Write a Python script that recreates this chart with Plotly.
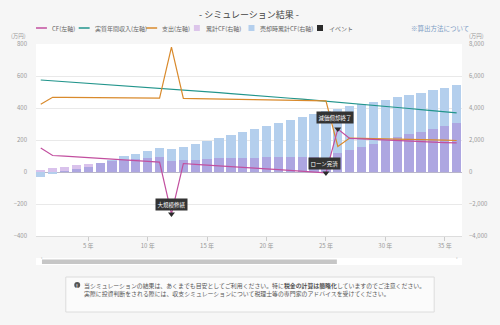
import plotly.graph_objects as go

years = list(range(1, 37))
year_ticks = [5, 10, 15, 20, 25, 30, 35]
year_tick_text = ["5 年", "10 年", "15 年", "20 年", "25 年", "30 年", "35 年"]

cf = [150, 103, 99, 94, 90, 84, 80, 76, 71, 67, 62, -262, 53, 48, 44, 39, 34, 30,
      25, 20, 15, 10, 5, 0, -6, 268, 210, 207, 203, 200, 196, 193, 190, 187, 184, 182]
income = [575, 570, 565, 560, 555, 549, 544, 539, 534, 529, 524, 518, 513, 507, 502, 496, 490, 485,
          479, 473, 467, 461, 455, 449, 442, 436, 429, 423, 416, 410, 403, 397, 390, 383, 377, 370]
expense = [423, 467, 466, 466, 465, 465, 464, 463, 463, 462, 462, 780, 460, 459, 458, 457, 456, 455,
           454, 453, 452, 451, 450, 449, 444, 160, 212, 210, 209, 207, 205, 204, 202, 200, 199, 197]
cum_cf = [150, 250, 340, 420, 500, 590, 670, 745, 815, 880, 940, 680, 730, 775, 815, 850, 875, 895,
          905, 915, 920, 920, 915, 910, 900, 1160, 1370, 1575, 1775, 1970, 2160, 2345, 2530, 2715, 2900, 3080]
sale_cum_cf = [-330, -140, 20, 170, 330, 590, 750, 980, 1140, 1330, 1530, 1420, 1580, 1750, 1950, 2120, 2310, 2500,
               2690, 2870, 3040, 3230, 3420, 3620, 3800, 3950, 4100, 4250, 4400, 4530, 4660, 4800, 4950, 5100, 5260, 5420]

event_years = [12, 25, 26]
event_labels = ["大規模修繕", "ローン完済", "減価償却終了"]
event_values = [cf[y - 1] for y in event_years]

legend_labels = ["CF(左軸)", "実質年間収入(左軸)", "支出(左軸)", "累計CF(右軸)", "売却時累計CF(右軸)", "イベント"]

C_CF = "#c24f9f"
C_INC = "#22958c"
C_EXP = "#d98a2c"
C_CUM = "rgba(165,110,210,0.42)"
C_CUM_LEG = "#dcc5ea"
C_SALE = "#b4cfed"
C_EVT = "#2b2b2b"
FONT = "Noto Sans CJK JP, Noto Sans, sans-serif"

W, H = 500, 325
L, R, T, B = 36, 35, 44, 89
PW, PH = W - L - R, H - T - B


def px(x):
    return (x - L) / PW


def py(y):
    return (H - B - y) / PH


fig = go.Figure()
fig.add_trace(go.Bar(x=years, y=sale_cum_cf, marker=dict(color=C_SALE, line=dict(width=0)),
                     width=0.78, yaxis="y", name=legend_labels[4], showlegend=False))
fig.add_trace(go.Bar(x=years, y=cum_cf, marker=dict(color=C_CUM, line=dict(width=0)),
                     width=0.78, yaxis="y", name=legend_labels[3], showlegend=False))
fig.add_trace(go.Scatter(x=years, y=income, mode="lines", line=dict(color=C_INC, width=1.2),
                         yaxis="y2", name=legend_labels[1], showlegend=False))
fig.add_trace(go.Scatter(x=years, y=expense, mode="lines", line=dict(color=C_EXP, width=1.2),
                         yaxis="y2", name=legend_labels[2], showlegend=False))
fig.add_trace(go.Scatter(x=years, y=cf, mode="lines", line=dict(color=C_CF, width=1.2),
                         yaxis="y2", name=legend_labels[0], showlegend=False))
fig.add_trace(go.Scatter(x=event_years, y=event_values, mode="markers",
                         marker=dict(symbol="triangle-down", size=6, color=C_EVT),
                         yaxis="y2", name=legend_labels[5], showlegend=False, cliponaxis=False))

shapes = []
annotations = []

# title
annotations.append(dict(text="- シミュレーション結果 -", x=px(251), y=py(14), xref="paper", yref="paper",
                        showarrow=False, font=dict(size=9, color="#444", family=FONT),
                        xanchor="center", yanchor="middle"))

# manual legend
leg_y = 28
line_items = [(36, C_CF, legend_labels[0]), (79, C_INC, legend_labels[1]), (147, C_EXP, legend_labels[2])]
for x0, col, lab in line_items:
    shapes.append(dict(type="line", xref="paper", yref="paper", x0=px(x0), x1=px(x0 + 11),
                       y0=py(leg_y), y1=py(leg_y), line=dict(color=col, width=1.5)))
    annotations.append(dict(text=lab, x=px(x0 + 14), y=py(leg_y), xref="paper", yref="paper",
                            showarrow=False, xanchor="left", yanchor="middle",
                            font=dict(size=6, color="#666", family=FONT)))
sq_items = [(195, C_CUM_LEG, legend_labels[3]), (250, C_SALE, legend_labels[4]), (319, C_EVT, legend_labels[5])]
for x0, col, lab in sq_items:
    shapes.append(dict(type="rect", xref="paper", yref="paper", x0=px(x0), x1=px(x0 + 6),
                       y0=py(leg_y + 3), y1=py(leg_y - 3), fillcolor=col, line=dict(width=0)))
    annotations.append(dict(text=lab, x=px(x0 + 10), y=py(leg_y), xref="paper", yref="paper",
                            showarrow=False, xanchor="left", yanchor="middle",
                            font=dict(size=6, color="#666", family=FONT)))
annotations.append(dict(text="※算出方法について", x=px(412), y=py(leg_y), xref="paper", yref="paper",
                        showarrow=False, xanchor="left", yanchor="middle",
                        font=dict(size=6.5, color="#7d9cc4", family=FONT)))

# unit labels
for xc in (18, 480):
    annotations.append(dict(text="(万円)", x=px(xc), y=py(36), xref="paper", yref="paper",
                            showarrow=False, xanchor="center", yanchor="middle",
                            font=dict(size=5.5, color="#999", family=FONT)))

# event labels
for yr, lab, val, xs, ys in zip(event_years, event_labels, event_values, [0, -1, -3], [3, 3, 5]):
    annotations.append(dict(text=lab, x=yr, y=val, xref="x", yref="y2", showarrow=False,
                            xanchor="center", yanchor="bottom", yshift=ys, xshift=xs,
                            bgcolor="#333", borderpad=1.5,
                            font=dict(size=5.5, color="white", family=FONT)))

# scrollbar
shapes.append(dict(type="rect", xref="paper", yref="paper", x0=px(36), x1=px(465), y0=py(258), y1=py(265),
                   fillcolor="white", line=dict(width=0)))
shapes.append(dict(type="rect", xref="paper", yref="paper", x0=px(42), x1=px(339), y0=py(259.5), y1=py(264),
                   fillcolor="#c6c6c6", line=dict(width=0)))
annotations.append(dict(text="‹", x=px(39), y=py(261.5), xref="paper", yref="paper", showarrow=False,
                        font=dict(size=5, color="#aaa", family=FONT)))
annotations.append(dict(text="›", x=px(463), y=py(261.5), xref="paper", yref="paper", showarrow=False,
                        font=dict(size=5, color="#aaa", family=FONT)))

# notice box
shapes.append(dict(type="rect", xref="paper", yref="paper", x0=px(66), x1=px(437), y0=py(277), y1=py(312),
                   fillcolor="#fbfbfb", line=dict(color="#dcdcdc", width=1)))
shapes.append(dict(type="circle", xref="paper", yref="paper", x0=px(74.5), x1=px(80.5), y0=py(282), y1=py(288),
                   fillcolor="#555", line=dict(width=0)))
annotations.append(dict(text="<b>!</b>", x=px(77.5), y=py(285), xref="paper", yref="paper", showarrow=False,
                        xanchor="center", yanchor="middle", font=dict(size=5, color="white", family=FONT)))
annotations.append(dict(text="当シミュレーションの結果は、あくまでも目安としてご利用ください。特に<b>税金の計算は簡略化</b>していますのでご注意ください。",
                        x=px(82.5), y=py(285), xref="paper", yref="paper", showarrow=False,
                        xanchor="left", yanchor="middle", font=dict(size=5.9, color="#555", family=FONT)))
annotations.append(dict(text="実際に投資判断をされる際には、収支シミュレーションについて税理士等の専門家のアドバイスを受けてください。",
                        x=px(82.5), y=py(293.5), xref="paper", yref="paper", showarrow=False,
                        xanchor="left", yanchor="middle", font=dict(size=5.9, color="#555", family=FONT)))

fig.update_layout(
    width=W, height=H,
    margin=dict(l=L, r=R, t=T, b=B, pad=0),
    paper_bgcolor="#f6f6f6", plot_bgcolor="white",
    barmode="overlay", bargap=0,
    showlegend=False,
    font=dict(family=FONT, size=6, color="#999"),
    xaxis=dict(range=[0.6, 36.45], tickvals=year_ticks, ticktext=year_tick_text,
               ticks="outside", ticklen=4, tickcolor="#ccc", showgrid=False, zeroline=False,
               showline=True, linecolor="#dddddd", linewidth=1,
               tickfont=dict(size=6, color="#999", family=FONT), fixedrange=True),
    yaxis=dict(side="right", range=[-4000, 8000], tickvals=[-4000, -2000, 0, 2000, 4000, 6000, 8000],
               tickformat=",d", showgrid=True, gridcolor="#e9e9e9", gridwidth=1,
               zeroline=True, zerolinecolor="#b9b6c9", zerolinewidth=1,
               ticklabelstandoff=6, tickfont=dict(size=6, color="#999", family=FONT), fixedrange=True),
    yaxis2=dict(side="left", overlaying="y", range=[-400, 800], tickvals=[-400, -200, 0, 200, 400, 600, 800],
                showgrid=False, zeroline=False, ticklabelstandoff=8,
                tickfont=dict(size=6, color="#999", family=FONT), fixedrange=True),
    shapes=shapes,
    annotations=annotations,
)

fig.write_html("out.html")
